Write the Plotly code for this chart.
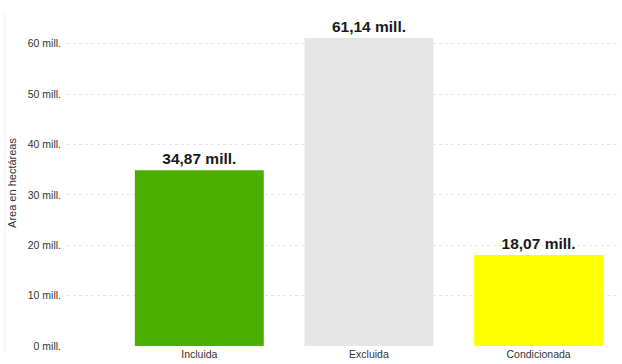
import plotly.graph_objects as go

categories = ["Incluida", "Excluida", "Condicionada"]
values_mill = [34.87, 61.14, 18.07]
bar_colors = ["#4CAF00", "#E6E6E6", "#FFFF00"]
tick_vals = [0, 10, 20, 30, 40, 50, 60]
tick_text = [f"{v} mill." for v in tick_vals]
labels = [f"{v:.2f}".replace(".", ",") + " mill." for v in values_mill]

fig = go.Figure(go.Bar(
    x=categories, y=values_mill,
    marker=dict(color=bar_colors, line=dict(width=0)),
    width=0.76,
    text=labels, textposition="outside",
    textfont=dict(family="Liberation Sans, Arial, sans-serif", size=15.5, color="#1a1a1a"),
    texttemplate="<b>%{text}</b>",
    cliponaxis=False,
))

fig.update_layout(
    width=622, height=364,
    margin=dict(l=67, r=2, t=20, b=18),
    paper_bgcolor="white", plot_bgcolor="white",
    showlegend=False,
    font=dict(family="Liberation Sans, Arial, sans-serif", size=10.5, color="#333333"),
    xaxis=dict(range=[-0.78, 2.48], showgrid=False, showline=False, zeroline=False,
               tickfont=dict(size=10.5, color="#333333"), ticks=""),
    yaxis=dict(range=[0, 64.7], tickvals=tick_vals, ticktext=tick_text,
               showgrid=True, gridcolor="#E6E6E6", griddash="dot", gridwidth=1,
               zeroline=False, showline=False, ticks="", ticklabelstandoff=5,
               tickfont=dict(size=10.5, color="#333333"),
               title=dict(text="Area en hectáreas", font=dict(size=11, color="#333333"), standoff=8)),
    shapes=[dict(type="line", xref="paper", yref="paper",
                 x0=(5 - 67) / 553, x1=(5 - 67) / 553, y0=-0.02, y1=1.02,
                 line=dict(color="#EEEEEE", width=1))],
)

fig.write_html("out.html")
